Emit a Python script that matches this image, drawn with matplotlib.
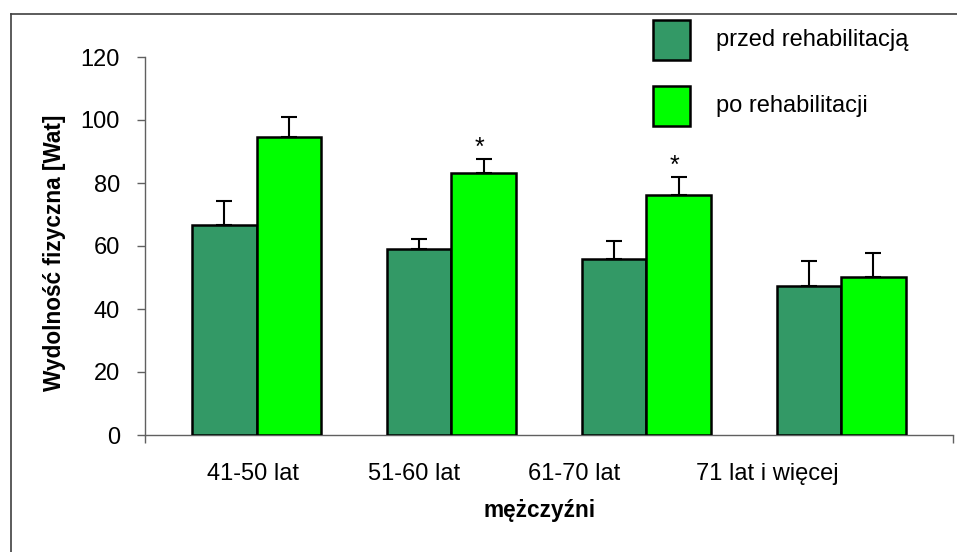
import numpy as np
import matplotlib
matplotlib.use("Agg")
import matplotlib.pyplot as plt
from matplotlib.patches import Rectangle
from matplotlib.lines import Line2D

plt.rcParams['font.family'] = ['Liberation Sans', 'DejaVu Sans']

groups = ['41-50 lat', '51-60 lat', '61-70 lat', '71 lat i więcej']
series = ['przed rehabilitacją', 'po rehabilitacji']
before = [66.7, 59.0, 55.8, 47.4]
before_err = [7.5, 3.2, 5.7, 7.7]
after = [94.5, 83.1, 76.2, 50.1]
after_err = [6.4, 4.5, 5.7, 7.6]
signif = [False, True, True, False]

colors = ['#339966', '#00ff00']
fs = 17

fig = plt.figure(figsize=(9.57, 5.52), dpi=100)
W, H = 957, 552
ax = fig.add_axes([145 / W, 1 - 435 / H, (953 - 145) / W, (435 - 57) / H])

x = np.arange(len(groups))
w = 0.331
ekw = dict(ecolor='black', elinewidth=1.5, capsize=5.5, capthick=1.5)
ax.bar(x - w / 2, before, w, color=colors[0], edgecolor='black', linewidth=1.8,
       yerr=[np.zeros(4), before_err], error_kw=ekw, zorder=3)
ax.bar(x + w / 2, after, w, color=colors[1], edgecolor='black', linewidth=1.8,
       yerr=[np.zeros(4), after_err], error_kw=ekw, zorder=3)

for i in range(len(groups)):
    if signif[i]:
        ax.text(x[i] + w / 2 - 0.02, after[i] + after_err[i] + 3.5, '*',
                ha='center', va='center', fontsize=fs + 1)

ax.set_xlim(-0.573, 3.574)
ax.set_ylim(0, 120)
ax.set_yticks(np.arange(0, 121, 20))
ax.tick_params(axis='y', labelsize=fs, length=6, width=1, color='#606060', pad=12)

# category labels sit a bit left of the bar groups in the original
label_pos = [-0.019, 0.808, 1.63, 2.62]
ax.set_xticks(label_pos)
ax.set_xticklabels(groups)
ax.tick_params(axis='x', labelsize=fs, length=0, pad=20)
ax.set_xticks([-0.573, 3.574], minor=True)
ax.tick_params(axis='x', which='minor', length=6, width=1, color='#606060')

for s in ['top', 'right']:
    ax.spines[s].set_visible(False)
for s in ['left', 'bottom']:
    ax.spines[s].set_color('#606060')
    ax.spines[s].set_linewidth(1)

fig.text(54 / W, 1 - 253 / H, 'Wydolność fizyczna [Wat]', rotation=90,
         ha='center', va='center', fontsize=fs - 0.7, fontweight='bold')
fig.text(540 / W, 1 - 510 / H, 'mężczyźni', ha='center', va='center',
         fontsize=fs - 0.7, fontweight='bold')

# legend drawn by hand
for i, lab in enumerate(series):
    top = [20, 86][i]
    fig.add_artist(Rectangle((653 / W, 1 - (top + 40) / H), 37 / W, 40 / H,
                             transform=fig.transFigure, facecolor=colors[i],
                             edgecolor='black', linewidth=1.8))
    fig.text(716 / W, 1 - (top + 20) / H, lab, ha='left', va='center', fontsize=fs)

# outer frame
fig.add_artist(Line2D([11 / W, 11 / W], [0, 1 - 14 / H], transform=fig.transFigure,
                      color='#404040', linewidth=1.2))
fig.add_artist(Line2D([11 / W, 1], [1 - 14 / H, 1 - 14 / H], transform=fig.transFigure,
                      color='#404040', linewidth=1.2))

fig.savefig('out.png', dpi=100)
